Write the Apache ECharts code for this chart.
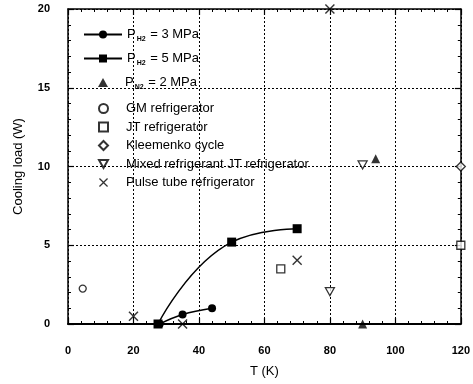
<!DOCTYPE html>
<html>
<head>
<meta charset="utf-8">
<script src="https://cdn.jsdelivr.net/npm/echarts@6/dist/echarts.min.js"></script>
<style>html,body{margin:0;padding:0;background:#fff}#c{width:473px;height:384px}</style>
</head>
<body>
<div id="c"></div>
<script>
// Data (T in K, cooling load in W)
const xTicks = [0, 20, 40, 60, 80, 100, 120];
const yTicks = [0, 5, 10, 15, 20];
const ph2_3 = [[28, 0], [35, 0.6], [44, 1.0]];
const ph2_5 = [[27.5, 0], [50, 5.2], [70, 6.05]];
const pn2_2 = [[90, 0], [94, 10.5]];
const gmRef = [[4.5, 2.25]];
const jtRef = [[65, 3.5], [120, 5]];
const kleemenko = [[120, 10]];
const mixedJT = [[80, 2.05], [90, 10.1]];
const pulseTube = [[20, 0.5], [35, 0], [70, 4.05], [80, 20]];

const names = ['P_H2 = 3 MPa', 'P_H2 = 5 MPa', 'P_N2 = 2 MPa', 'GM refrigerator', 'JT refrigerator', 'Kleemenko cycle', 'Mixed refrigerant JT refrigerator', 'Pulse tube refrigerator'];

const FONT = 'Liberation Sans, Arial, sans-serif';
const X_PATH = 'path://M0,1L1,0L5,4L9,0L10,1L6,5L10,9L9,10L5,6L1,10L0,9L4,5Z';
const DOWN_TRI = 'path://M0,0L10,0L5,9Z';

const chart = echarts.init(document.getElementById('c'), null, {renderer: 'canvas'});

const axisCommon = {
  type: 'value',
  axisLine: {show: true, onZero: false, lineStyle: {color: '#000', width: 1.5}},
  axisTick: {show: true, inside: true, length: 6, lineStyle: {color: '#000', width: 1.2}},
  minorTick: {show: true, splitNumber: 5, length: 3, lineStyle: {color: '#000', width: 1}},
  splitLine: {show: false},
  axisLabel: {show: false}
};

function makeRich(padLeft) {
  return {
    a: {fontFamily: FONT, fontSize: 13, color: '#000', lineHeight: 14},
    p: {fontFamily: FONT, fontSize: 13, color: '#000', lineHeight: 14, padding: [0, 0, 0, padLeft]},
    s: {fontFamily: FONT, fontSize: 7, fontWeight: 'bold', color: '#000', padding: [10, 1, 0, 1], lineHeight: 7}
  };
}
function legendFmt(n) {
  const m = n.match(/^P_(\w\d)(.*)$/);
  if (m) return '{p|P}{s|' + m[1] + '}{a|' + m[2] + '}';
  return '{p|' + n + '}';
}

const openStyle = {color: '#fff', borderColor: '#000', borderWidth: 1.3};

chart.setOption({
  animation: false,
  backgroundColor: '#fff',
  grid: {left: 68, right: 11, top: 9, bottom: 60, containLabel: false},
  legend: [
    {
      data: names.slice(0, 2), orient: 'vertical', left: 83, top: 26, padding: 0,
      itemWidth: 38, itemHeight: 10, itemGap: 7,
      formatter: legendFmt, textStyle: {rich: makeRich(0)}, selectedMode: false
    },
    {
      data: names.slice(2, 3), orient: 'vertical', left: 98, top: 74, padding: 0,
      itemWidth: 10, itemHeight: 9, itemGap: 7,
      formatter: legendFmt, textStyle: {rich: makeRich(12)}, selectedMode: false
    },
    {
      data: names.slice(3), orient: 'vertical', left: 98, top: 102, padding: 0,
      itemWidth: 9, itemHeight: 9, itemGap: 5.5,
      formatter: legendFmt, textStyle: {rich: makeRich(13)}, selectedMode: false
    }
  ],
  xAxis: [
    Object.assign({}, axisCommon, {
      position: 'bottom', min: xTicks[0], max: xTicks[xTicks.length - 1], interval: 20,
      axisLine: {show: true, onZero: false, lineStyle: {color: '#000', width: 2}},
      splitLine: {show: true, lineStyle: {color: '#000', width: 1, type: [2, 2]}},
      axisLabel: {show: true, margin: 21, fontFamily: FONT, fontSize: 11, fontWeight: 'bold', color: '#000'},
      name: 'T (K)', nameLocation: 'middle', nameGap: 41,
      nameTextStyle: {fontFamily: FONT, fontSize: 13, color: '#000'}
    }),
    Object.assign({}, axisCommon, {position: 'top', min: 0, max: 120, interval: 20})
  ],
  yAxis: [
    Object.assign({}, axisCommon, {
      position: 'left', min: yTicks[0], max: yTicks[yTicks.length - 1], interval: 5,
      splitLine: {show: true, lineStyle: {color: '#000', width: 1, type: [2, 2]}},
      axisLabel: {show: true, margin: 18, fontFamily: FONT, fontSize: 11, fontWeight: 'bold', color: '#000'},
      name: 'Cooling load (W)', nameLocation: 'middle', nameGap: 43,
      nameTextStyle: {fontFamily: FONT, fontSize: 13, color: '#000'}
    }),
    Object.assign({}, axisCommon, {position: 'right', min: 0, max: 20, interval: 5})
  ],
  series: [
    {name: names[0], type: 'line', data: ph2_3, smooth: 0.4, symbol: 'circle', symbolSize: 8,
     lineStyle: {color: '#000', width: 1.5}, itemStyle: {color: '#000'}, clip: false},
    {name: names[1], type: 'line', data: ph2_5, smooth: 0.5, symbol: 'rect', symbolSize: 9,
     lineStyle: {color: '#000', width: 1.5}, itemStyle: {color: '#000'}, clip: false},
    {name: names[2], type: 'scatter', data: pn2_2, symbol: 'triangle', symbolSize: 9,
     itemStyle: {color: '#000'}, clip: false},
    {name: names[3], type: 'scatter', data: gmRef, symbol: 'circle', symbolSize: 7,
     itemStyle: openStyle, clip: false},
    {name: names[4], type: 'scatter', data: jtRef, symbol: 'rect', symbolSize: 8,
     itemStyle: openStyle, clip: false},
    {name: names[5], type: 'scatter', data: kleemenko, symbol: 'diamond', symbolSize: 9,
     itemStyle: openStyle, clip: false},
    {name: names[6], type: 'scatter', data: mixedJT, symbol: DOWN_TRI, symbolSize: [9, 8],
     itemStyle: openStyle, clip: false},
    {name: names[7], type: 'scatter', data: pulseTube, symbol: X_PATH, symbolSize: 10,
     itemStyle: {color: '#000'}, clip: false}
  ]
});
</script>
</body>
</html>
